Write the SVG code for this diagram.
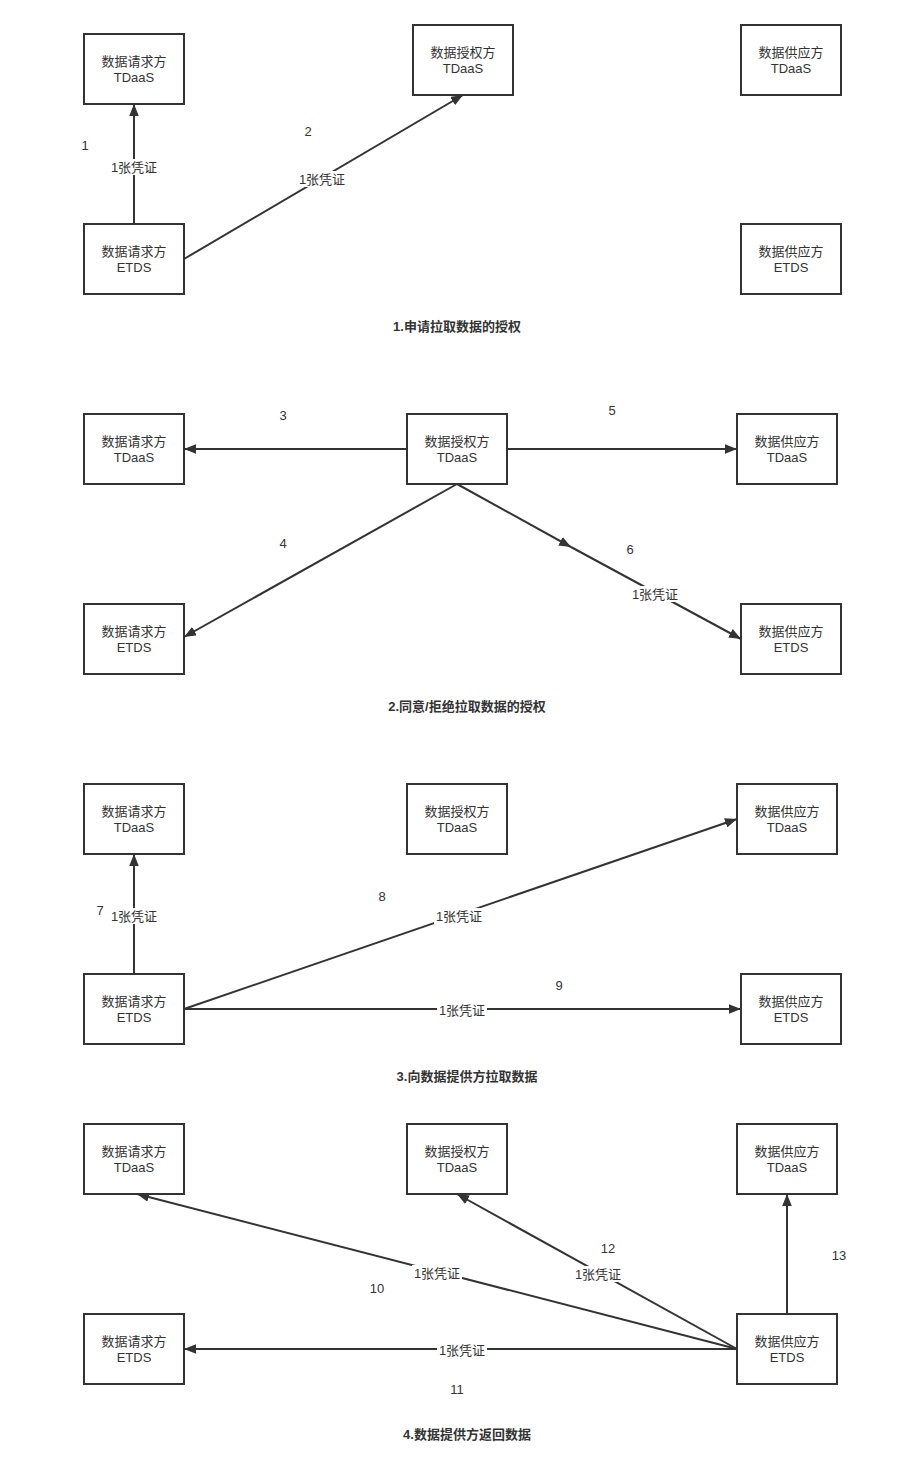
<svg xmlns="http://www.w3.org/2000/svg" width="924" height="1478" viewBox="0 0 924 1478">
<style>
.box rect{fill:#fff;stroke:#333;stroke-width:2}
text{font-family:"Liberation Sans","Noto Sans CJK SC",sans-serif;font-size:13px;fill:#333;text-anchor:middle}
.title{font-weight:bold}
.edge{stroke:#333;stroke-width:2;fill:none;marker-end:url(#ah)}
.lbg{fill:#fff;stroke:none}
</style>
<defs>
<marker id="ah" viewBox="0 0 10 8" refX="10" refY="4" markerWidth="12" markerHeight="9.6" markerUnits="userSpaceOnUse" orient="auto">
<path d="M0,0 L10,4 L0,8 z" fill="#333"/>
</marker>
</defs>
<rect width="924" height="1478" fill="#fff"/>

<g id="connectors">
<line class="edge" x1="134" y1="224" x2="134" y2="104"/>
<line class="edge" x1="184" y1="259" x2="463" y2="95"/>
<line class="edge" x1="407" y1="449" x2="184" y2="449"/>
<line class="edge" x1="507" y1="449" x2="737" y2="449"/>
<line class="edge" x1="457" y1="484" x2="184" y2="637"/>
<line class="edge" x1="457" y1="484" x2="571" y2="547"/>
<line class="edge" x1="571" y1="547" x2="741" y2="639"/>
<line class="edge" x1="134" y1="974" x2="134" y2="854"/>
<line class="edge" x1="184" y1="1009" x2="737" y2="819"/>
<line class="edge" x1="184" y1="1009" x2="741" y2="1009"/>
<line class="edge" x1="737" y1="1349" x2="137" y2="1194"/>
<line class="edge" x1="737" y1="1349" x2="184" y2="1349"/>
<line class="edge" x1="737" y1="1349" x2="457" y2="1194"/>
<line class="edge" x1="787" y1="1314" x2="787" y2="1194"/>

<rect class="lbg" x="109" y="159" width="50" height="16"/><text x="134" y="172">1张凭证</text>
<rect class="lbg" x="297" y="171" width="50" height="16"/><text x="322" y="184">1张凭证</text>
<rect class="lbg" x="630" y="586" width="50" height="16"/><text x="655" y="599">1张凭证</text>
<rect class="lbg" x="109" y="908" width="50" height="16"/><text x="134" y="921">1张凭证</text>
<rect class="lbg" x="434" y="908" width="50" height="16"/><text x="459" y="921">1张凭证</text>
<rect class="lbg" x="437" y="1002" width="50" height="16"/><text x="462" y="1015">1张凭证</text>
<rect class="lbg" x="412" y="1265" width="50" height="16"/><text x="437" y="1278">1张凭证</text>
<rect class="lbg" x="573" y="1266" width="50" height="16"/><text x="598" y="1279">1张凭证</text>
<rect class="lbg" x="437" y="1342" width="50" height="16"/><text x="462" y="1355">1张凭证</text>

<text x="85" y="150">1</text>
<text x="308" y="136">2</text>
<text x="283" y="420">3</text>
<text x="283" y="548">4</text>
<text x="612" y="415">5</text>
<text x="630" y="554">6</text>
<text x="100" y="915">7</text>
<text x="382" y="901">8</text>
<text x="559" y="990">9</text>
<text x="377" y="1293">10</text>
<text x="457" y="1394">11</text>
<text x="608" y="1253">12</text>
<text x="839" y="1260">13</text>
</g>

<g id="s1-req-tdaas" class="box"><rect x="84" y="34" width="100" height="70"/><text x="134" y="66">数据请求方</text><text x="134" y="82">TDaaS</text></g>
<g id="s1-auth-tdaas" class="box"><rect x="413" y="25" width="100" height="70"/><text x="463" y="57">数据授权方</text><text x="463" y="73">TDaaS</text></g>
<g id="s1-sup-tdaas" class="box"><rect x="741" y="25" width="100" height="70"/><text x="791" y="57">数据供应方</text><text x="791" y="73">TDaaS</text></g>
<g id="s1-req-etds" class="box"><rect x="84" y="224" width="100" height="70"/><text x="134" y="256">数据请求方</text><text x="134" y="272">ETDS</text></g>
<g id="s1-sup-etds" class="box"><rect x="741" y="224" width="100" height="70"/><text x="791" y="256">数据供应方</text><text x="791" y="272">ETDS</text></g>
<text class="title" x="457" y="331">1.申请拉取数据的授权</text>

<g id="s2-req-tdaas" class="box"><rect x="84" y="414" width="100" height="70"/><text x="134" y="446">数据请求方</text><text x="134" y="462">TDaaS</text></g>
<g id="s2-auth-tdaas" class="box"><rect x="407" y="414" width="100" height="70"/><text x="457" y="446">数据授权方</text><text x="457" y="462">TDaaS</text></g>
<g id="s2-sup-tdaas" class="box"><rect x="737" y="414" width="100" height="70"/><text x="787" y="446">数据供应方</text><text x="787" y="462">TDaaS</text></g>
<g id="s2-req-etds" class="box"><rect x="84" y="604" width="100" height="70"/><text x="134" y="636">数据请求方</text><text x="134" y="652">ETDS</text></g>
<g id="s2-sup-etds" class="box"><rect x="741" y="604" width="100" height="70"/><text x="791" y="636">数据供应方</text><text x="791" y="652">ETDS</text></g>
<text class="title" x="467" y="711">2.同意/拒绝拉取数据的授权</text>

<g id="s3-req-tdaas" class="box"><rect x="84" y="784" width="100" height="70"/><text x="134" y="816">数据请求方</text><text x="134" y="832">TDaaS</text></g>
<g id="s3-auth-tdaas" class="box"><rect x="407" y="784" width="100" height="70"/><text x="457" y="816">数据授权方</text><text x="457" y="832">TDaaS</text></g>
<g id="s3-sup-tdaas" class="box"><rect x="737" y="784" width="100" height="70"/><text x="787" y="816">数据供应方</text><text x="787" y="832">TDaaS</text></g>
<g id="s3-req-etds" class="box"><rect x="84" y="974" width="100" height="70"/><text x="134" y="1006">数据请求方</text><text x="134" y="1022">ETDS</text></g>
<g id="s3-sup-etds" class="box"><rect x="741" y="974" width="100" height="70"/><text x="791" y="1006">数据供应方</text><text x="791" y="1022">ETDS</text></g>
<text class="title" x="467" y="1081">3.向数据提供方拉取数据</text>

<g id="s4-req-tdaas" class="box"><rect x="84" y="1124" width="100" height="70"/><text x="134" y="1156">数据请求方</text><text x="134" y="1172">TDaaS</text></g>
<g id="s4-auth-tdaas" class="box"><rect x="407" y="1124" width="100" height="70"/><text x="457" y="1156">数据授权方</text><text x="457" y="1172">TDaaS</text></g>
<g id="s4-sup-tdaas" class="box"><rect x="737" y="1124" width="100" height="70"/><text x="787" y="1156">数据供应方</text><text x="787" y="1172">TDaaS</text></g>
<g id="s4-req-etds" class="box"><rect x="84" y="1314" width="100" height="70"/><text x="134" y="1346">数据请求方</text><text x="134" y="1362">ETDS</text></g>
<g id="s4-sup-etds" class="box"><rect x="737" y="1314" width="100" height="70"/><text x="787" y="1346">数据供应方</text><text x="787" y="1362">ETDS</text></g>
<text class="title" x="467" y="1439">4.数据提供方返回数据</text>
</svg>
